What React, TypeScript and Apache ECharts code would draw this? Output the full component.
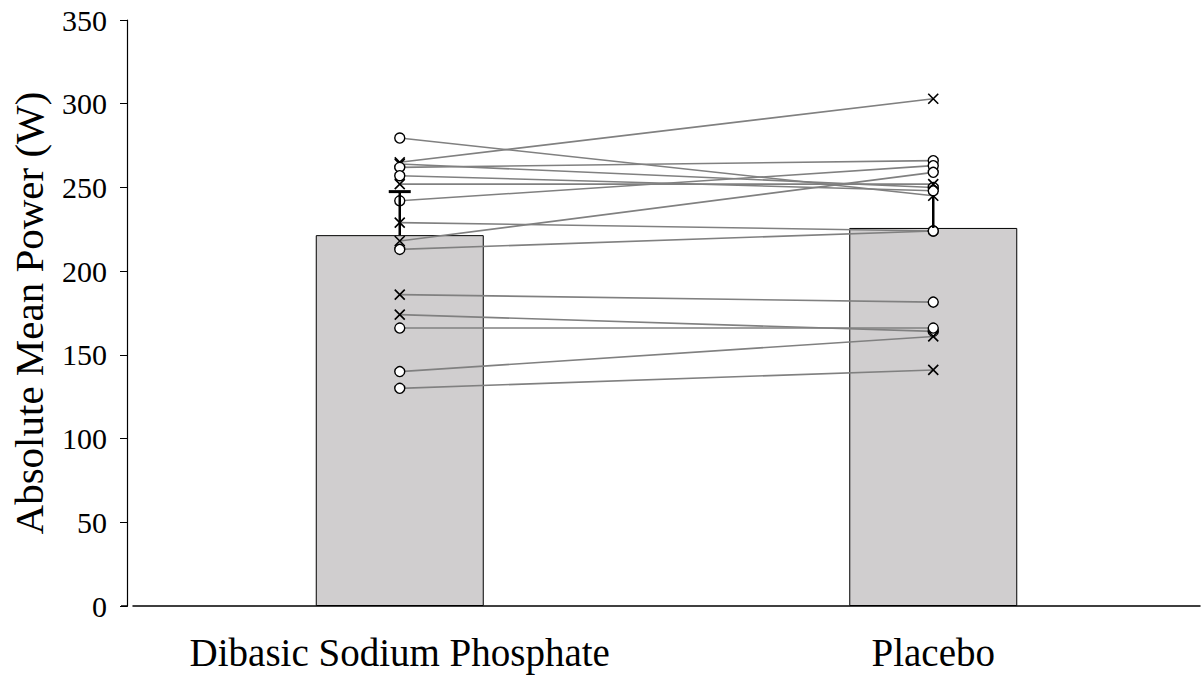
import React, { useEffect, useRef } from "react";
import * as echarts from "echarts";

const categories = ["Dibasic Sodium Phosphate", "Placebo"];
const barMeans = [221.5, 225.8];
const errorTops = [247.5, 245];
const errorCaps = [true, false];

const dspValues = [279.5, 265, 264, 262, 257, 252, 242, 229, 218, 213, 186, 174, 166, 140, 130];
const placeboValues = [245, 303, 250, 266, 248, 252, 263, 224, 259, 224, 181.5, 164, 166, 161, 141];
const dspMarkers = ["o", "x", "x", "o", "o", "x", "o", "x", "x", "o", "x", "x", "o", "o", "o"];
const placeboMarkers = ["x", "x", "o", "o", "o", "x", "o", "o", "o", "o", "o", "o", "o", "x", "x"];

const yTicks = [0, 50, 100, 150, 200, 250, 300, 350];

const FONT = "'Liberation Serif', 'Times New Roman', serif";
const CROSS = "path://M0,0L10,10M10,0L0,10";

function pointItem(v: number, m: string) {
  if (m === "x") {
    return {
      value: v,
      symbol: CROSS,
      symbolSize: 10,
      itemStyle: { color: "none", borderColor: "#000", borderWidth: 1.6 },
    };
  }
  return {
    value: v,
    symbol: "circle",
    symbolSize: 10,
    itemStyle: { color: "#ffffff", borderColor: "#000", borderWidth: 1.4 },
  };
}

export default function App() {
  const ref = useRef<HTMLDivElement>(null);
  useEffect(() => {
    if (!ref.current) return;
    const chart = echarts.init(ref.current, null, { renderer: "svg" });
    const lineSeries = dspValues.map((v, i) => ({
      type: "line",
      z: 3,
      data: [pointItem(v, dspMarkers[i]), pointItem(placeboValues[i], placeboMarkers[i])],
      lineStyle: { color: "#808080", width: 1.6 },
      showAllSymbol: true,
      silent: true,
    }));
    chart.setOption({
      animation: false,
      backgroundColor: "#ffffff",
      grid: { left: 127, right: 1, top: 20, bottom: 81 },
      xAxis: {
        type: "category",
        data: categories,
        boundaryGap: true,
        axisLine: { lineStyle: { color: "#000", width: 1.5 } },
        axisTick: { show: false },
        axisLabel: {
          color: "#000",
          fontFamily: FONT,
          fontSize: 39,
          margin: 27,
          interval: 0,
        },
      },
      yAxis: {
        type: "value",
        min: yTicks[0],
        max: yTicks[yTicks.length - 1],
        interval: 50,
        offset: 6,
        name: "Absolute Mean Power (W)",
        nameLocation: "middle",
        nameGap: 78,
        nameTextStyle: { color: "#000", fontFamily: FONT, fontSize: 41 },
        splitLine: { show: false },
        axisLine: { show: true, lineStyle: { color: "#000", width: 1.2 } },
        axisTick: { show: true, inside: false, length: 7, lineStyle: { color: "#000" } },
        axisLabel: { color: "#000", fontFamily: FONT, fontSize: 30, margin: 20 },
      },
      graphic: [
        {
          type: "line",
          shape: { x1: 121, y1: 606, x2: 128, y2: 606 },
          style: { stroke: "#000", lineWidth: 1.5 },
        },
      ],
      series: [
        {
          type: "bar",
          data: barMeans,
          barWidth: 168,
          z: 1,
          itemStyle: { color: "#d0cecf", borderColor: "#000", borderWidth: 1 },
          silent: true,
        },
        ...lineSeries,
        {
          type: "custom",
          z: 5,
          silent: true,
          data: barMeans.map((m, i) => [i, m, errorTops[i]]),
          renderItem: (params: any, api: any) => {
            const idx = api.value(0);
            const base = api.coord([idx, api.value(1)]);
            const top = api.coord([idx, api.value(2)]);
            const children: any[] = [
              {
                type: "line",
                shape: { x1: base[0], y1: base[1], x2: top[0], y2: top[1] },
                style: { stroke: "#000", lineWidth: 2.5 },
              },
            ];
            if (errorCaps[params.dataIndex]) {
              children.push({
                type: "line",
                shape: { x1: top[0] - 11, y1: top[1], x2: top[0] + 11, y2: top[1] },
                style: { stroke: "#000", lineWidth: 3 },
              });
            }
            return { type: "group", children };
          },
        },
      ],
    });
    return () => chart.dispose();
  }, []);
  return (
    <div
      ref={ref}
      style={{ position: "fixed", left: 0, top: 0, width: 1201, height: 687, background: "#fff" }}
    />
  );
}
